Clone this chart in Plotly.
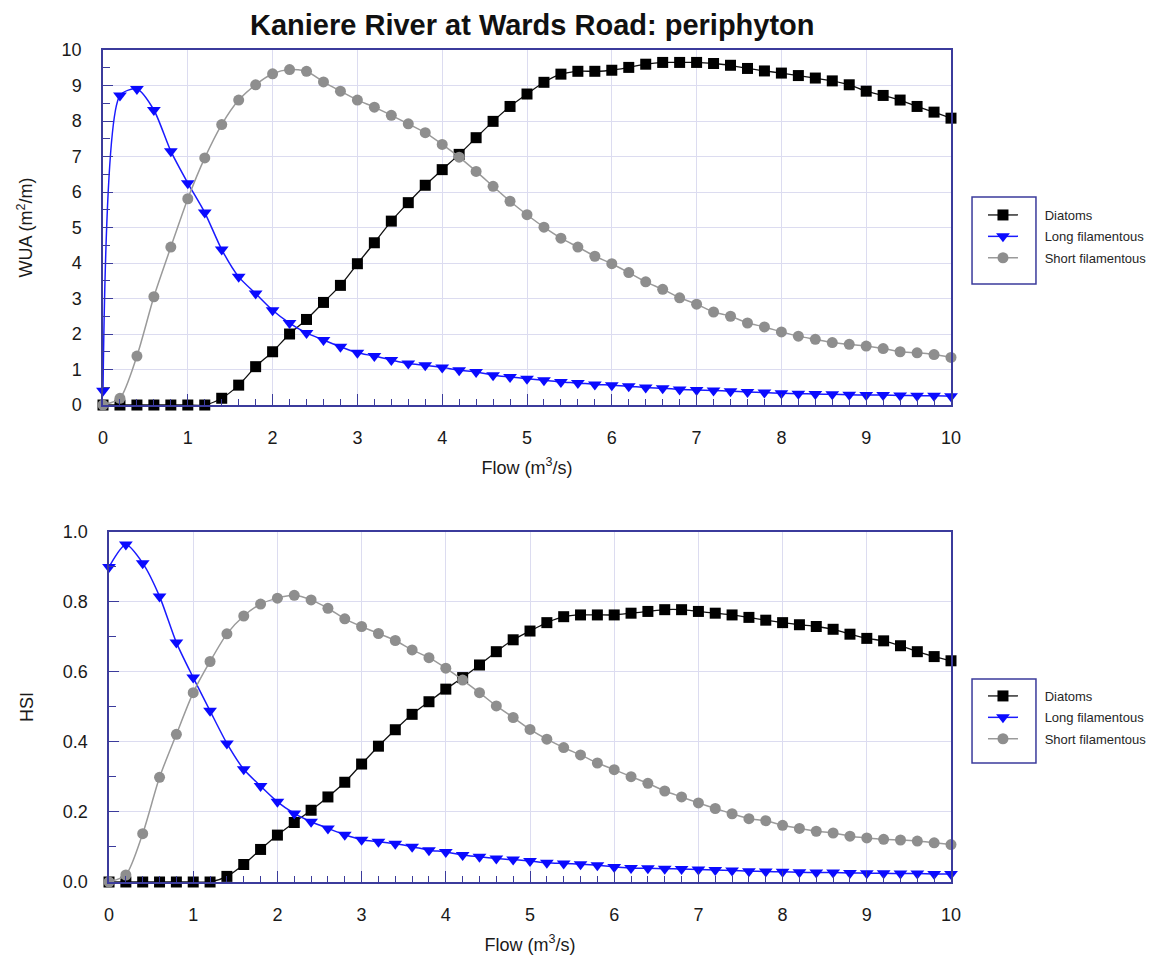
import plotly.graph_objects as go

flow = [0, 0.2, 0.4, 0.6, 0.8, 1.0, 1.2, 1.4, 1.6, 1.8, 2.0, 2.2, 2.4, 2.6, 2.8, 3.0,
        3.2, 3.4, 3.6, 3.8, 4.0, 4.2, 4.4, 4.6, 4.8, 5.0, 5.2, 5.4, 5.6, 5.8, 6.0,
        6.2, 6.4, 6.6, 6.8, 7.0, 7.2, 7.4, 7.6, 7.8, 8.0, 8.2, 8.4, 8.6, 8.8, 9.0,
        9.2, 9.4, 9.6, 9.8, 10.0]

wua_diatoms = [0, 0, 0, 0, 0, 0, 0, 0.19, 0.56, 1.08, 1.5, 2.0, 2.41, 2.89, 3.37, 3.98,
               4.57, 5.18, 5.70, 6.19, 6.63, 7.06, 7.53, 7.99, 8.41, 8.76, 9.09, 9.32,
               9.40, 9.40, 9.43, 9.51, 9.60, 9.65, 9.65, 9.65, 9.62, 9.57, 9.48, 9.41,
               9.35, 9.28, 9.21, 9.13, 9.02, 8.84, 8.72, 8.59, 8.41, 8.25, 8.08]
wua_long = [0.4, 8.72, 8.9, 8.31, 7.15, 6.25, 5.42, 4.38, 3.61, 3.14, 2.67, 2.31, 2.03,
            1.83, 1.64, 1.47, 1.38, 1.27, 1.17, 1.12, 1.06, 0.98, 0.93, 0.84, 0.79, 0.74,
            0.70, 0.65, 0.62, 0.58, 0.56, 0.53, 0.49, 0.47, 0.44, 0.42, 0.41, 0.39, 0.37,
            0.35, 0.33, 0.32, 0.31, 0.30, 0.29, 0.28, 0.28, 0.27, 0.26, 0.26, 0.25]
wua_short = [0, 0.19, 1.38, 3.05, 4.45, 5.81, 6.96, 7.9, 8.59, 9.02, 9.33, 9.45, 9.4, 9.1,
             8.84, 8.59, 8.39, 8.16, 7.92, 7.67, 7.34, 6.98, 6.58, 6.16, 5.74, 5.36, 5.01,
             4.70, 4.45, 4.19, 3.98, 3.73, 3.47, 3.26, 3.02, 2.84, 2.62, 2.50, 2.31, 2.20,
             2.06, 1.94, 1.85, 1.76, 1.71, 1.66, 1.59, 1.50, 1.47, 1.42, 1.34]

hsi_diatoms = [0, 0, 0, 0, 0, 0, 0, 0.016, 0.05, 0.093, 0.134, 0.17, 0.205, 0.243, 0.285,
               0.337, 0.388, 0.435, 0.479, 0.515, 0.551, 0.584, 0.62, 0.658, 0.692, 0.717,
               0.741, 0.758, 0.763, 0.763, 0.763, 0.768, 0.773, 0.778, 0.778, 0.773, 0.768,
               0.763, 0.756, 0.748, 0.741, 0.735, 0.73, 0.722, 0.708, 0.696, 0.689, 0.675,
               0.658, 0.644, 0.632]
hsi_long = [0.90, 0.964, 0.911, 0.816, 0.684, 0.584, 0.489, 0.396, 0.322, 0.274, 0.229,
            0.196, 0.172, 0.153, 0.135, 0.121, 0.115, 0.109, 0.101, 0.091, 0.086, 0.077,
            0.072, 0.067, 0.064, 0.06, 0.055, 0.053, 0.051, 0.048, 0.043, 0.040, 0.039,
            0.038, 0.037, 0.036, 0.034, 0.033, 0.031, 0.030, 0.029, 0.028, 0.027, 0.027,
            0.026, 0.025, 0.025, 0.024, 0.024, 0.023, 0.023]
hsi_short = [0, 0.02, 0.138, 0.299, 0.422, 0.541, 0.63, 0.709, 0.76, 0.794, 0.811, 0.819,
             0.806, 0.782, 0.752, 0.73, 0.71, 0.69, 0.663, 0.641, 0.611, 0.577, 0.541,
             0.503, 0.47, 0.436, 0.408, 0.384, 0.363, 0.34, 0.321, 0.301, 0.282, 0.26,
             0.243, 0.226, 0.21, 0.195, 0.181, 0.175, 0.162, 0.153, 0.145, 0.14, 0.131,
             0.126, 0.122, 0.12, 0.117, 0.112, 0.107]

series_names = ["Diatoms", "Long filamentous", "Short filamentous"]
title_text = "Kaniere River at Wards Road: periphyton"

FONT = "Liberation Sans, Arial, Helvetica, sans-serif"
AXC = "#3b3b9c"
GRIDC = "#dcdcf0"
PAD = "\u00a0" * 6  # gap between legend symbol and legend text

styles = [
    dict(line=dict(color="#111111", width=1.3),
         marker=dict(symbol="square", size=11, color="#000000")),
    dict(line=dict(color="#1a1aff", width=1.5),
         marker=dict(symbol="triangle-down", size=12, color="#0a0aff")),
    dict(line=dict(color="#9a9a9a", width=1.5),
         marker=dict(symbol="circle", size=11, color="#8e8e8e")),
]

fig = go.Figure()
for i, (ys, st) in enumerate(zip([wua_diatoms, wua_long, wua_short], styles)):
    fig.add_trace(go.Scatter(x=flow, y=ys, name=PAD + series_names[i], mode="lines+markers",
                             line=dict(shape="spline", smoothing=0.7, **st["line"]),
                             marker=st["marker"], cliponaxis=False,
                             xaxis="x", yaxis="y", legend="legend",
                             legendgroup="a%d" % i))
for i, (ys, st) in enumerate(zip([hsi_diatoms, hsi_long, hsi_short], styles)):
    fig.add_trace(go.Scatter(x=flow, y=ys, name=PAD + series_names[i], mode="lines+markers",
                             line=dict(shape="spline", smoothing=0.7, **st["line"]),
                             marker=st["marker"], cliponaxis=False,
                             xaxis="x2", yaxis="y2", legend="legend2",
                             legendgroup="b%d" % i))

tickfont = dict(family=FONT, size=18, color="#1a1a1a")
titlefont = dict(family=FONT, size=18, color="#1a1a1a")


def xax(domain, anchor):
    return dict(domain=domain, anchor=anchor, range=[0, 10], tickmode="linear", tick0=0,
                dtick=1, ticks="inside", ticklen=11, tickwidth=1.3, tickcolor=AXC,
                showline=True, linecolor=AXC, linewidth=1.5, mirror=True,
                showgrid=True, gridcolor=GRIDC, gridwidth=1, zeroline=False,
                tickfont=tickfont, ticklabelstandoff=16,
                minor=dict(dtick=0.2, ticks="inside", ticklen=6, tickcolor=AXC,
                           tickwidth=1.2, showgrid=False),
                title=dict(text="Flow (m<sup>3</sup>/s)", font=titlefont, standoff=14))


def yax(domain, anchor, rng, dt, mdt, fmt, title):
    return dict(domain=domain, anchor=anchor, range=rng, tickmode="linear", tick0=0,
                dtick=dt, ticks="inside", ticklen=10, tickwidth=1.3, tickcolor=AXC,
                showline=True, linecolor=AXC, linewidth=1.5, mirror=True,
                showgrid=True, gridcolor=GRIDC, gridwidth=1, zeroline=False,
                tickfont=tickfont, tickformat=fmt, ticklabelstandoff=16,
                minor=dict(dtick=mdt, ticks="inside", ticklen=7, tickcolor=AXC,
                           tickwidth=1.2, showgrid=False),
                title=dict(text=title, font=titlefont, standoff=24))


legend_common = dict(xanchor="left", yanchor="top", bgcolor="rgba(0,0,0,0)",
                     borderwidth=0, font=dict(family=FONT, size=13, color="#262626"),
                     itemwidth=30, tracegroupgap=1.5, itemclick=False)

# page has an 8px body margin; figure is sized so the plot areas land where the reference has them
fig.update_layout(
    width=1153, height=947,
    margin=dict(l=95, r=210, t=42, b=73, autoexpand=False),
    paper_bgcolor="white", plot_bgcolor="white",
    showlegend=True,
    xaxis=xax([0, 1], "y"),
    yaxis=yax([0.5733, 1], "x", [0, 10], 1, 0.5, "d", "WUA (m<sup>2</sup>/m)"),
    xaxis2=xax([0.0071, 1], "y2"),
    yaxis2=yax([0, 0.4207], "x2", [0, 1.0], 0.2, 0.1, ".1f", "HSI"),
    legend=dict(x=1.0377, y=0.8197, **legend_common),
    legend2=dict(x=1.0377, y=0.2416, **legend_common),
    annotations=[dict(text="<b>%s</b>" % title_text, xref="paper", yref="paper",
                      x=0.506, y=1.0, yshift=25, xanchor="center", yanchor="middle",
                      showarrow=False, font=dict(family=FONT, size=29, color="#111111"))],
    shapes=[
        dict(type="rect", xref="paper", yref="paper", x0=1.0248, x1=1.1002,
             y0=0.7188, y1=0.8233, line=dict(color=AXC, width=1.5)),
        dict(type="rect", xref="paper", yref="paper", x0=1.0248, x1=1.1002,
             y0=0.143, y1=0.244, line=dict(color=AXC, width=1.5)),
    ],
)

fig.write_html("out.html")
